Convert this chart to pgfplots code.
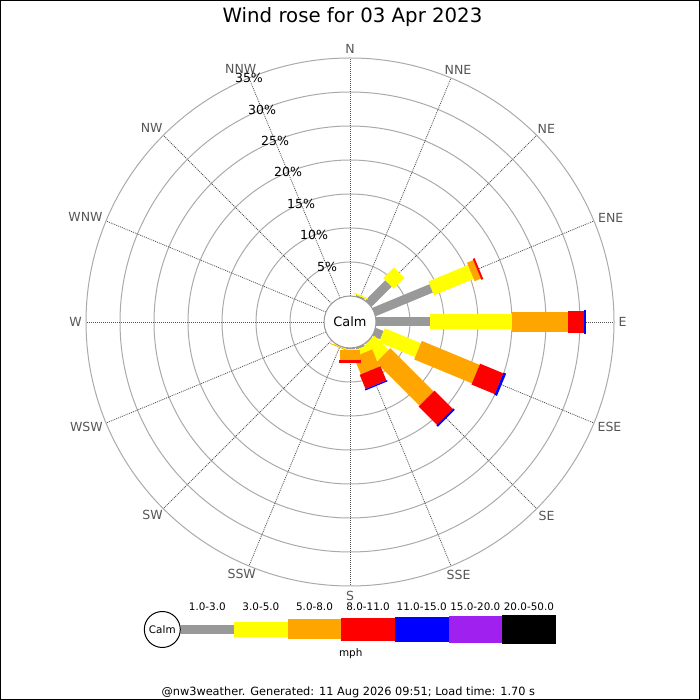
\documentclass[border=0pt]{standalone}
\usepackage{pgfplots}
\pgfplotsset{compat=1.18}
\usepackage{pgfplotstable}
\usepackage{fontspec}
\setmainfont{DejaVu Sans}

\definecolor{wgray}{HTML}{999999}
\definecolor{wyellow}{HTML}{FFFF00}
\definecolor{worange}{HTML}{FFA500}
\definecolor{wred}{HTML}{FF0000}
\definecolor{wblue}{HTML}{0000FF}
\definecolor{wpurple}{HTML}{A020F0}
\definecolor{ringgray}{HTML}{AAAAAA}
\definecolor{spokegray}{HTML}{555555}
\definecolor{labelgray}{HTML}{555555}

% math angle (deg), start %, end % (cumulative)
\pgfplotstableread{
a p0 p1
67.5 0 0.2
45 0 4.2
22.5 0 9.1
0 0 7.9
-22.5 0 1.25
-45 0 0.15
-67.5 0 0.3
-90 0 0.1
-112.5 0 0.05
}\tgray
\pgfplotstableread{
a p0 p1
67.5 0.2 0.4
45 4.2 6.4
22.5 9.1 15.4
0 7.9 20.0
-22.5 1.25 7.0
-45 0.15 3.1
-67.5 0.3 1.15
-90 0.1 0.3
-112.5 0.05 0.15
}\tyellow
\pgfplotstableread{
a p0 p1
22.5 15.4 16.4
0 20.0 28.2
-22.5 7.0 16.2
-45 3.1 12.1
-67.5 1.15 3.9
-90 0.3 1.75
-112.5 0.15 0.25
}\torange
\pgfplotstableread{
a p0 p1
22.5 16.4 16.7
0 28.2 30.6
-22.5 16.2 19.9
-45 12.1 15.9
-67.5 3.9 6.15
-90 1.75 2.15
}\tred
\pgfplotstableread{
a p0 p1
0 30.6 30.9
-22.5 19.9 20.3
-45 15.9 16.2
-67.5 6.15 6.35
}\tblue

\pgfplotsset{
  seg/.style={quiver={
      u={6.8*(\thisrow{p1}-\thisrow{p0})*cos(\thisrow{a})},
      v={6.8*(\thisrow{p1}-\thisrow{p0})*sin(\thisrow{a})}},
    line cap=butt},
}

\begin{document}
\begin{tikzpicture}
\begin{axis}[
  x=0.75pt, y=0.75pt,
  xmin=-350, xmax=350, ymin=-378, ymax=322,
  scale only axis, hide axis, clip=false,
]
% rings
\pgfplotsinvokeforeach{45,70.5,96,121.5,147,172.5,198}{
  \draw[ringgray, line width=0.75pt] (0,0) circle[radius=#1pt];
}
% spokes
\pgfplotsinvokeforeach{0,22.5,...,337.5}{
  \draw[spokegray, line width=0.6pt, dash pattern=on 0.75pt off 0.75pt]
    (0,0) ++(#1:19.5pt) -- ++(#1:178.5pt);
}

% bars
\addplot[seg, draw=wgray, line width=6.75pt] table[
  x expr={(26+6.8*\thisrow{p0})*cos(\thisrow{a})},
  y expr={(26+6.8*\thisrow{p0})*sin(\thisrow{a})}] {\tgray};
\addplot[seg, draw=wyellow, line width=11.25pt] table[
  x expr={(26+6.8*\thisrow{p0})*cos(\thisrow{a})},
  y expr={(26+6.8*\thisrow{p0})*sin(\thisrow{a})}] {\tyellow};
\addplot[seg, draw=worange, line width=15pt] table[
  x expr={(26+6.8*\thisrow{p0})*cos(\thisrow{a})},
  y expr={(26+6.8*\thisrow{p0})*sin(\thisrow{a})}] {\torange};
\addplot[seg, draw=wred, line width=16.9pt] table[
  x expr={(26+6.8*\thisrow{p0})*cos(\thisrow{a})},
  y expr={(26+6.8*\thisrow{p0})*sin(\thisrow{a})}] {\tred};
\addplot[seg, draw=wblue, line width=18pt] table[
  x expr={(26+6.8*\thisrow{p0})*cos(\thisrow{a})},
  y expr={(26+6.8*\thisrow{p0})*sin(\thisrow{a})}] {\tblue};

% calm circle
\draw[wgray, fill=white, line width=0.75pt] (0,0) circle[radius=19.5pt];
\node[font=\fontsize{9.7}{11}\selectfont] at (0,0) {Calm};

% compass labels
\begin{scope}[every node/.style={text=labelgray, font=\fontsize{9.4}{11}\selectfont, inner sep=0pt}]
\node at (0,273) {N};
\node at (108.0,252.2) {NNE};
\node at (196.3,193.0) {NE};
\node at (260.8,104.5) {ENE};
\node at (272.5,0) {E};
\node at (259.5,-104.5) {ESE};
\node at (196.5,-193.5) {SE};
\node at (108.5,-252.5) {SSE};
\node at (0,-274) {S};
\node at (-108.3,-252.2) {SSW};
\node at (-197.4,-193.0) {SW};
\node at (-263.6,-104.5) {WSW};
\node at (-274.5,0) {W};
\node at (-264.5,105) {WNW};
\node at (-198.3,194) {NW};
\node at (-109.3,253) {NNW};
\end{scope}

% percent labels
\begin{scope}[every node/.style={text=black, font=\fontsize{9.4}{11}\selectfont, inner sep=0pt}]
\path (0,0) ++(112.5:45pt)   node {5\%};
\path (0,0) ++(112.5:70.5pt) node {10\%};
\path (0,0) ++(112.5:96pt)   node {15\%};
\path (0,0) ++(112.5:121.5pt) node {20\%};
\path (0,0) ++(112.5:147pt)  node {25\%};
\path (0,0) ++(112.5:172.5pt) node {30\%};
\path (0,0) ++(112.5:198pt)  node {35\%};
\end{scope}

% title
\node[font=\fontsize{14.8}{17}\selectfont] at (2.5,305) {Wind rose for 03 Apr 2023};

% legend
\draw[black, fill=white, line width=0.75pt] (-187.7,-307.5) circle[radius=13.5pt];
\node[font=\fontsize{7.8}{9}\selectfont] at (-187.7,-307.5) {Calm};
\fill[wgray]   (-169.5,-311.6) rectangle (-115.9,-303.1);
\fill[wyellow] (-115.9,-315.0) rectangle (-62.3,-299.7);
\fill[worange] (-62.3,-317.5) rectangle (-8.7,-297.2);
\fill[wred]    (-8.7,-319.0) rectangle (44.9,-295.7);
\fill[wblue]   (44.9,-320.0) rectangle (98.5,-294.7);
\fill[wpurple] (98.5,-321.0) rectangle (152.1,-293.7);
\fill[black]   (152.1,-321.7) rectangle (205.7,-293.0);
\begin{scope}[every node/.style={font=\fontsize{7.8}{9}\selectfont, inner sep=0pt}]
\node at (-142.7,-284.7) {1.0-3.0};
\node at (-89.1,-284.7) {3.0-5.0};
\node at (-35.5,-284.7) {5.0-8.0};
\node at (18.1,-284.7) {8.0-11.0};
\node at (71.7,-284.7) {11.0-15.0};
\node at (125.3,-284.7) {15.0-20.0};
\node at (178.9,-284.7) {20.0-50.0};
\node at (0.7,-331.3) {mph};
\node[font=\fontsize{8.5}{10}\selectfont] at (-1.7,-370.7) {@nw3weather. Generated: 11 Aug 2026 09:51; Load time: 1.70 s};
\end{scope}

% frame
\draw[black, line width=1.1pt] (-349.27,-377.27) rectangle (349.27,321.27);
\end{axis}
\end{tikzpicture}
\end{document}
